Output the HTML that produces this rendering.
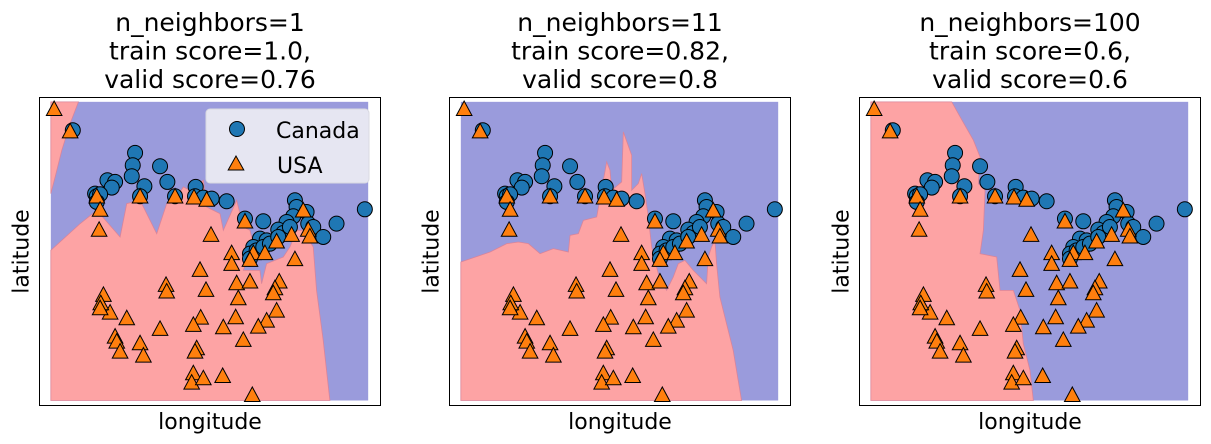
<!DOCTYPE html>
<html><head><meta charset="utf-8">
<style>
html,body{margin:0;padding:0;background:#fff;}
svg{display:block;font-family:"DejaVu Sans","Liberation Sans",sans-serif;}
</style></head>
<body>
<svg id="chart" width="1211" height="444" viewBox="0 0 1211 444"></svg>
<script>
// feature values (longitude-like, latitude-like units)
const canadaX = [128,315,308,305,390,412,232,255,245,195,200,210,200,343,330,435,497,495,520,545,590,645,700,795,800,830,790,770,745,760,780,835,850,920,880,1005,690,710,670,660,680,700,720,745,660];
const canadaY = [120,188,225,258,228,275,270,275,292,310,318,312,335,288,318,318,290,318,322,325,333,385,393,330,350,365,378,395,418,428,410,400,410,400,440,357,445,450,470,490,480,470,460,440,505];
const usaX = [72,120,200,210,207,330,435,492,530,645,543,605,605,510,408,410,528,620,660,625,748,735,730,740,710,685,617,580,512,490,390,290,240,220,212,210,255,260,270,330,340,500,495,640,490,485,520,578,667,740,785,820,835,840,795,670,705,660];
const usaY = [58,125,320,360,420,320,320,323,330,395,435,490,522,540,585,605,600,580,575,625,575,595,610,662,692,710,682,712,683,705,717,685,668,615,640,655,740,755,785,760,797,775,785,750,850,878,865,858,915,455,435,362,420,440,508,490,490,510];
const titles = [["n_neighbors=1","train score=1.0,","valid score=0.76"],["n_neighbors=11","train score=0.82,","valid score=0.8"],["n_neighbors=100","train score=0.6,","valid score=0.6"]];
// decision boundaries (red region outlines) in feature units
const red1a = [[62,35],[145,35],[120,100],[95,180],[75,260],[62,310]];
const red1 = [[62,480],[150,400],[200,360],[270,440],[290,340],[330,330],[380,430],[410,340],[440,320],[460,290],[480,300],[520,270],[530,350],[570,370],[580,420],[620,330],[640,410],[660,420],[670,460],[640,540],[690,540],[695,580],[710,520],[760,500],[780,470],[800,420],[820,420],[850,470],[860,600],[880,750],[900,930],[62,930]];
const red2 = [[62,515],[150,485],[200,460],[235,455],[265,460],[300,490],[340,475],[385,485],[390,435],[415,430],[430,390],[470,380],[500,215],[510,240],[515,300],[545,275],[550,125],[575,195],[575,300],[595,280],[605,250],[615,310],[625,380],[635,470],[655,550],[680,600],[700,560],[715,520],[735,510],[760,540],[800,580],[805,500],[815,470],[825,450],[830,520],[840,620],[860,700],[880,780],[905,930],[62,930]];
const red3 = [[62,35],[305,35],[330,80],[370,150],[390,200],[385,280],[405,300],[400,420],[390,490],[440,500],[450,600],[490,600],[510,660],[520,760],[540,840],[550,930],[62,930]];
const regions = [[red1a,red1],[red2],[red3]];
const boxLefts = [39.5,449.5,859.5];

const NS="http://www.w3.org/2000/svg";
const svg=document.getElementById('chart');
function mk(tag,attrs,parent){const e=document.createElementNS(NS,tag);for(const k in attrs)e.setAttribute(k,attrs[k]);(parent||svg).appendChild(e);return e;}
const BT=97.5,BW=341,BH=308;
function sx(i,v){return boxLefts[i]+(v-28)/1024*BW;}
function sy(v){return BT+(v-22)/923*BH;}

for(let i=0;i<3;i++){
  const g=mk('g',{});
  
  
  const bg=mk('rect',{x:sx(i,62),y:sy(35),width:sx(i,1015)-sx(i,62),height:sy(930)-sy(35),fill:'#9a9bdc'},g);
  
  
  regions[i].forEach(poly=>{
    const p=mk('polygon',{points:poly.map(q=>sx(i,q[0])+','+sy(q[1])).join(' '),fill:'#fda3a4',stroke:'#d9849a','stroke-width':0.8},g);
    
    
  });
  const box=mk('rect',{x:boxLefts[i],y:BT,width:BW,height:BH,fill:'none',stroke:'#000','stroke-width':1},g);
  
  
  for(let j=0;j<canadaX.length;j++){
    const c=mk('circle',{cx:sx(i,canadaX[j]),cy:sy(canadaY[j]),r:7.5,fill:'#1f77b4',stroke:'#000','stroke-width':1},g);
    
    
  }
  for(let j=0;j<usaX.length;j++){
    const x=sx(i,usaX[j]),y=sy(usaY[j]);
    const t=mk('polygon',{points:`${x},${y-8.5} ${x-7.8},${y+6} ${x+7.8},${y+6}`,fill:'#ff7f0e',stroke:'#000','stroke-width':1},g);
    
    
  }
  const cx=boxLefts[i]+BW/2;
  titles[i].forEach((s,k)=>{
    const t=mk('text',{x:cx,y:31+k*28.5,'text-anchor':'middle','font-size':25,fill:'#000'},g);
    t.textContent=s;
    
    
  });
  const xl=mk('text',{x:cx,y:429,'text-anchor':'middle','font-size':22,fill:'#000'},g);
  xl.textContent='longitude';
  
  
  const yx=boxLefts[i]-11,yy=BT+BH/2;
  const yl=mk('text',{x:yx,y:yy,'text-anchor':'middle','font-size':22,fill:'#000',transform:`rotate(-90 ${yx} ${yy})`},g);
  yl.textContent='latitude';
  
  
}
// legend
const lg=mk('g',{});


mk('rect',{x:206,y:109,width:163,height:74,rx:4,fill:'#eaeaf2',stroke:'#d8d8e0','stroke-width':1,'fill-opacity':0.95},lg);
const lc=mk('circle',{cx:237,cy:129,r:7.5,fill:'#1f77b4',stroke:'#000','stroke-width':1},lg);


const lt=mk('polygon',{points:'236,156 228.2,170 243.8,170',fill:'#ff7f0e',stroke:'#000','stroke-width':1},lg);


const l1=mk('text',{x:276,y:138,'font-size':22,fill:'#000'},lg);l1.textContent='Canada';


const l2=mk('text',{x:277,y:173,'font-size':22,fill:'#000'},lg);l2.textContent='USA';


</script>
</body></html>
